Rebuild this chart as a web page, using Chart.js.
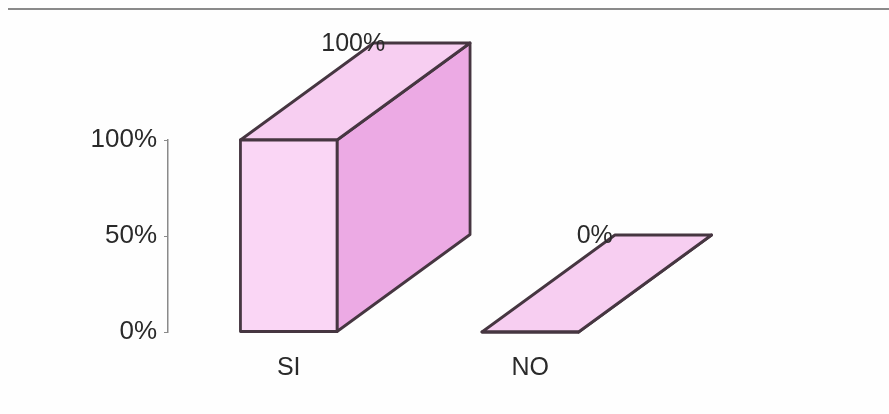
<!DOCTYPE html>
<html>
<head>
<meta charset="utf-8">
<script src="https://cdn.jsdelivr.net/npm/chart.js@4/dist/chart.umd.min.js"></script>
<style>
  html, body { margin: 0; padding: 0; background: #fefefe; }
  .wrap { position: relative; width: 889px; height: 414px; }
  .topline { position: absolute; left: 8px; right: 0; top: 8px; border-top: 2px solid #8a8a8a; }
  canvas { position: absolute; left: 0; top: 0; }
</style>
</head>
<body>
<div class="wrap">
  <div class="topline"></div>
  <canvas id="chart" width="889" height="414"></canvas>
</div>
<script>
// Data
const categories = ['SI', 'NO'];
const values = [100, 0];
const yTicks = [0, 50, 100];

// 3D look
const depthX = 133;
const depthY = -97;
const frontColor = '#fad6f5';
const sideColor = '#ecaae4';
const topColor = '#f7cef1';
const edgeColor = '#463641';

const bar3d = {
    id: 'bar3d',
    afterDatasetsDraw(chart) {
        const ctx = chart.ctx;
        const meta = chart.getDatasetMeta(0);
        ctx.save();
        ctx.lineWidth = 2.8;
        ctx.lineJoin = 'round';
        ctx.strokeStyle = edgeColor;
        meta.data.forEach((bar, i) => {
            const p = bar.getProps(['x', 'y', 'base', 'width'], true);
            const x0 = p.x - p.width / 2, x1 = p.x + p.width / 2;
            const top = p.y, base = p.base;

            // side face
            ctx.beginPath();
            ctx.moveTo(x1, top);
            ctx.lineTo(x1 + depthX, top + depthY);
            ctx.lineTo(x1 + depthX, base + depthY);
            ctx.lineTo(x1, base);
            ctx.closePath();
            ctx.fillStyle = sideColor;
            ctx.fill();
            ctx.stroke();

            // top face
            ctx.beginPath();
            ctx.moveTo(x0, top);
            ctx.lineTo(x0 + depthX, top + depthY);
            ctx.lineTo(x1 + depthX, top + depthY);
            ctx.lineTo(x1, top);
            ctx.closePath();
            ctx.fillStyle = topColor;
            ctx.fill();
            ctx.stroke();

            // front face
            ctx.beginPath();
            ctx.rect(x0, top, x1 - x0, base - top);
            ctx.fillStyle = frontColor;
            ctx.fill();
            ctx.stroke();
        });

        // value labels
        ctx.fillStyle = '#2a2a2a';
        ctx.font = '25px "Liberation Sans", Arial, sans-serif';
        ctx.textAlign = 'center';
        ctx.textBaseline = 'middle';
        meta.data.forEach((bar, i) => {
            ctx.fillText(values[i] + '%', bar.x + depthX / 2 - 2, bar.y + depthY + 1);
        });
        ctx.restore();
    }
};

new Chart(document.getElementById('chart'), {
    type: 'bar',
    data: {
        labels: categories,
        datasets: [{
            data: values,
            backgroundColor: 'rgba(0,0,0,0)',
            borderWidth: 0,
            barPercentage: 0.4,
            categoryPercentage: 1
        }]
    },
    options: {
        responsive: false,
        animation: false,
        layout: {
            padding: { left: 0, top: 140, right: 238, bottom: 22 }
        },
        plugins: {
            legend: { display: false },
            tooltip: { enabled: false }
        },
        scales: {
            x: {
                grid: { display: false, drawTicks: false },
                border: { display: false },
                ticks: {
                    color: '#2a2a2a',
                    padding: 21,
                    font: { family: '"Liberation Sans", Arial, sans-serif', size: 25 }
                },
                afterFit(scale) { scale.height = 60; }
            },
            y: {
                min: 0,
                max: 100,
                afterBuildTicks(scale) {
                    scale.ticks = yTicks.map(v => ({ value: v }));
                },
                grid: {
                    drawOnChartArea: false,
                    tickLength: 4,
                    color: '#8a8a8a'
                },
                border: { display: true, color: '#8a8a8a', width: 1.5 },
                ticks: {
                    color: '#2a2a2a',
                    padding: 7,
                    font: { family: '"Liberation Sans", Arial, sans-serif', size: 26 },
                    callback: v => v + '%'
                },
                afterFit(scale) { scale.width = 168; }
            }
        }
    },
    plugins: [bar3d]
});
</script>
</body>
</html>
